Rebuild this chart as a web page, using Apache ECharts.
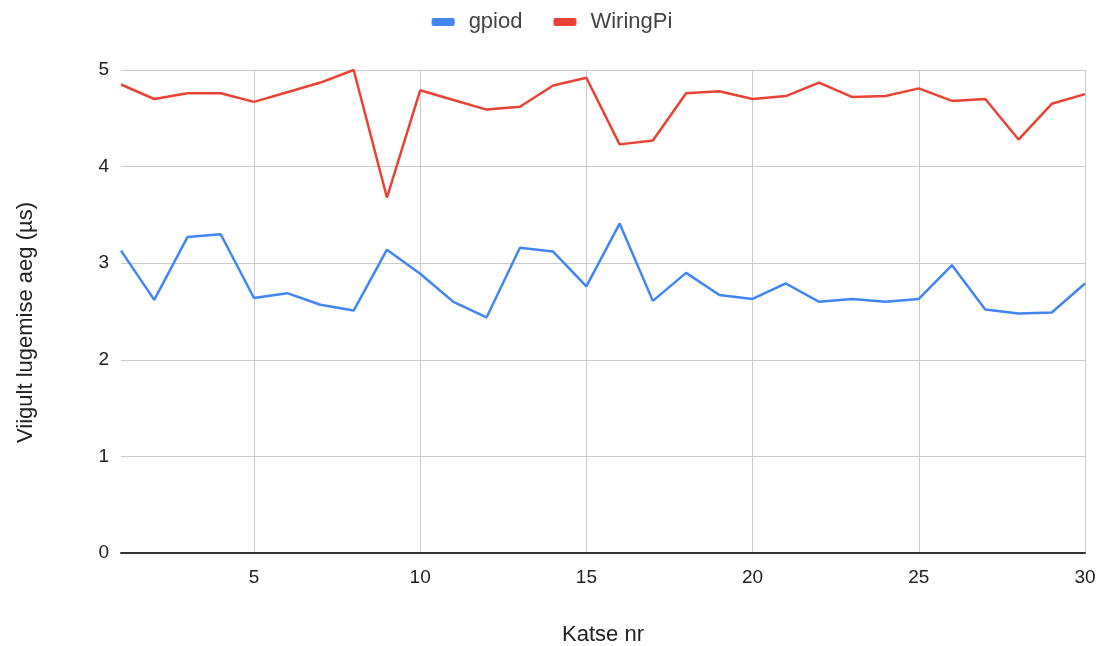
<!DOCTYPE html>
<html>
<head>
<meta charset="utf-8">
<script src="https://cdn.jsdelivr.net/npm/echarts@6/dist/echarts.min.js"></script>
<style>html,body{margin:0;padding:0;background:#fff;}#c{width:1104px;height:646px;}</style>
</head>
<body>
<div id="c"></div>
<script>
const categories = ['1','2','3','4','5','6','7','8','9','10','11','12','13','14','15','16','17','18','19','20','21','22','23','24','25','26','27','28','29','30'];
const gpiod = [3.13,2.62,3.27,3.30,2.64,2.69,2.57,2.51,3.14,2.89,2.60,2.44,3.16,3.12,2.76,3.41,2.61,2.90,2.67,2.63,2.79,2.60,2.63,2.60,2.63,2.98,2.52,2.48,2.49,2.79];
const wiringPi = [4.85,4.70,4.76,4.76,4.67,4.77,4.87,5.00,3.68,4.79,4.69,4.59,4.62,4.84,4.92,4.23,4.27,4.76,4.78,4.70,4.73,4.87,4.72,4.73,4.81,4.68,4.70,4.28,4.65,4.75];
const seriesNames = ['gpiod','WiringPi'];
const xTitle = 'Katse nr';
const yTitle = 'Viigult lugemise aeg (µs)';

const font = 'Arial, "Liberation Sans", sans-serif';
const chart = echarts.init(document.getElementById('c'));
const every5 = (i) => (i + 1) % 5 === 0;
chart.setOption({
  animation: false,
  textStyle: { fontFamily: font },
  legend: {
    top: 6,
    left: 'center',
    icon: 'roundRect',
    itemWidth: 23,
    itemHeight: 8,
    itemGap: 31,
    textStyle: { fontSize: 22, color: '#444', fontFamily: font, padding: [0, 0, 0, 9] },
    data: seriesNames
  },
  grid: { left: 121, right: 19, top: 70, bottom: 93, containLabel: false, outerBoundsMode: 'none' },
  xAxis: {
    type: 'category',
    data: categories,
    boundaryGap: false,
    name: xTitle,
    nameLocation: 'middle',
    nameGap: 71,
    nameTextStyle: { fontSize: 22, color: '#222', fontFamily: font },
    axisLine: { show: true, lineStyle: { color: '#333', width: 2 } },
    axisTick: { show: false },
    axisLabel: { interval: every5, margin: 15, fontSize: 19, color: '#222', fontFamily: font },
    splitLine: { show: true, interval: every5, lineStyle: { color: '#ccc', width: 1 } }
  },
  yAxis: {
    type: 'value',
    min: 0,
    max: 5,
    interval: 1,
    name: yTitle,
    nameLocation: 'middle',
    nameGap: 84,
    nameTextStyle: { fontSize: 22, color: '#222', fontFamily: font, padding: [0, 22, 0, 0] },
    axisLine: { show: false },
    axisTick: { show: false },
    axisLabel: { margin: 12, fontSize: 19, color: '#222', fontFamily: font },
    splitLine: { show: true, lineStyle: { color: '#ccc', width: 1 } }
  },
  series: [
    { name: seriesNames[0], type: 'line', data: gpiod, symbol: 'none', lineStyle: { color: '#4285F4', width: 2.5 }, itemStyle: { color: '#4285F4' } },
    { name: seriesNames[1], type: 'line', data: wiringPi, symbol: 'none', lineStyle: { color: '#EA4335', width: 2.5 }, itemStyle: { color: '#EA4335' } }
  ]
});
</script>
</body>
</html>
